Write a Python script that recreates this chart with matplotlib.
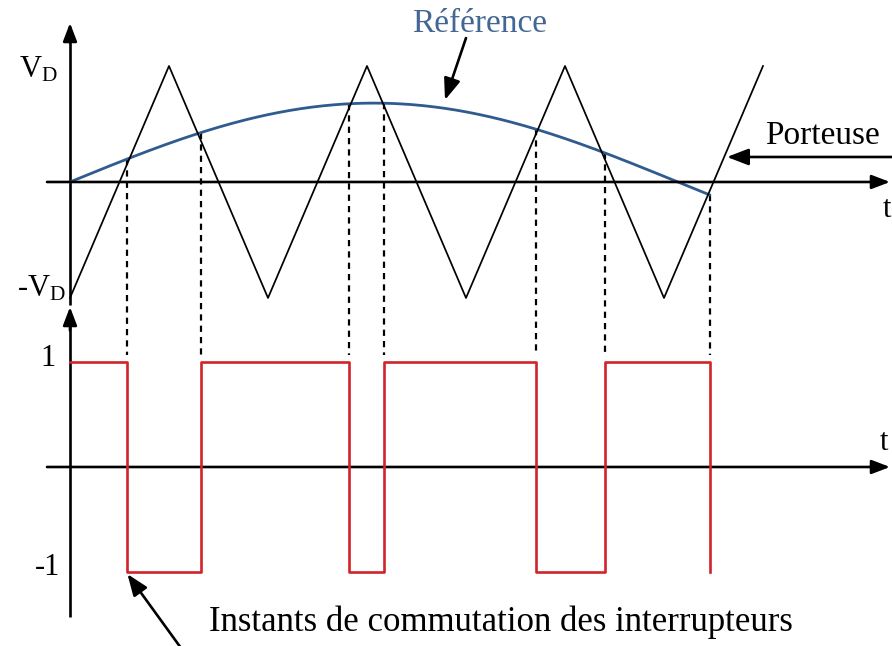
import numpy as np
import matplotlib
matplotlib.use("Agg")
import matplotlib.pyplot as plt

plt.rcParams["font.family"] = ["Liberation Serif", "DejaVu Serif"]
plt.rcParams["mathtext.fontset"] = "custom"
plt.rcParams["mathtext.rm"] = "Liberation Serif"
plt.rcParams["mathtext.it"] = "Liberation Serif:italic"

# carrier (triangle) vertices, time in carrier half-periods, level in units of V_D
carrier_t = [0, 1, 2, 3, 4, 5, 6, 7]
carrier_v = [-1, 1, -1, 1, -1, 1, -1, 1]

# sinusoidal reference
ref_amplitude = 0.68
ref_half_period = 6.14
ref_t_end = 6.46

# switching instants and PWM output levels
switch_t = [0.58, 1.32, 2.82, 3.17, 4.71, 5.40, 6.46]
pwm_levels = [1, -1, 1, -1, 1, -1, 1, -1]

blue = "#2f5b8f"
red = "#d1232a"

fig = plt.figure(figsize=(8.92, 6.46), dpi=100)
ax_top = fig.add_axes([0, 326 / 646, 1, 320 / 646])
ax_bot = fig.add_axes([0, 0, 1, 326 / 646])
for ax in (ax_top, ax_bot):
    ax.set_xlim(-0.707, 8.303)
    ax.axis("off")
ax_top.set_ylim(-1.19, 1.569)
ax_bot.set_ylim(-1.705, 1.4)


def axis_arrow(ax, start, end):
    ax.annotate("", xy=end, xytext=start, annotation_clip=False,
                arrowprops=dict(arrowstyle="-|>,head_length=1.1,head_width=0.42",
                                mutation_scale=10, lw=1.9, color="black",
                                shrinkA=0, shrinkB=0))


def pointer(ax, start, end):
    ax.annotate("", xy=end, xytext=start, annotation_clip=False,
                arrowprops=dict(arrowstyle="-|>,head_length=1.3,head_width=0.5",
                                mutation_scale=10, lw=1.9, color="black",
                                shrinkA=0, shrinkB=0))


# --- top: carrier + reference ---
axis_arrow(ax_top, (-0.232, 0), (8.283, 0))
ax_top.plot([0, 0], [-1.06, 1.30], color="black", lw=1.9, solid_capstyle="butt")
axis_arrow(ax_top, (0, 1.2), (0, 1.371))

ax_top.plot(carrier_t, carrier_v, color="black", lw=1.25, zorder=3)

tr = np.linspace(0, ref_t_end, 400)
ref = ref_amplitude * np.sin(np.pi * tr / ref_half_period)
ax_top.plot(tr, ref, color=blue, lw=2.0, zorder=2)

# dashed projections of switching instants
for ts in switch_t:
    v0 = ref_amplitude * np.sin(np.pi * ts / ref_half_period)
    ax_top.plot([ts, ts], [v0, -1.49], color="black", lw=1.6,
                dashes=(2.8, 2.3), clip_on=False, zorder=1)

ax_top.text(-0.12, 0.905, r"V$_{\mathrm{D}}$", fontsize=22, ha="right", va="baseline")
ax_top.text(-0.04, -0.99, r"-V$_{\mathrm{D}}$", fontsize=22, ha="right", va="baseline")
ax_top.text(8.253, -0.241, "t", fontsize=22, ha="center", va="center")

ax_top.text(4.141, 1.362, "Référence", fontsize=24, color="#436795",
            ha="center", va="center")
pointer(ax_top, (4.0, 1.241), (3.788, 0.707))

ax_top.text(7.596, 0.397, "Porteuse", fontsize=24, ha="center", va="center")
pointer(ax_top, (8.40, 0.2155), (6.636, 0.2155))

# --- bottom: PWM output ---
axis_arrow(ax_bot, (-0.232, 0), (8.283, 0))
ax_bot.plot([0, 0], [-1.43, 1.40], color="black", lw=1.9, solid_capstyle="butt")
axis_arrow(ax_bot, (0, 1.3), (0, 1.524))

ax_bot.step([0] + switch_t, pwm_levels, where="post", color=red, lw=1.9, zorder=3)

ax_bot.text(-0.227, 1.029, "1", fontsize=22, ha="center", va="center")
ax_bot.text(-0.222, -0.962, "-1", fontsize=22, ha="center", va="center")
ax_bot.text(8.22, 0.229, "t", fontsize=22, ha="center", va="center")

ax_bot.text(4.354, -1.476, "Instants de commutation des interrupteurs",
            fontsize=25, ha="center", va="center")
pointer(ax_bot, (1.141, -1.75), (switch_t[0], -1.02))

fig.savefig("out.png", dpi=100)
